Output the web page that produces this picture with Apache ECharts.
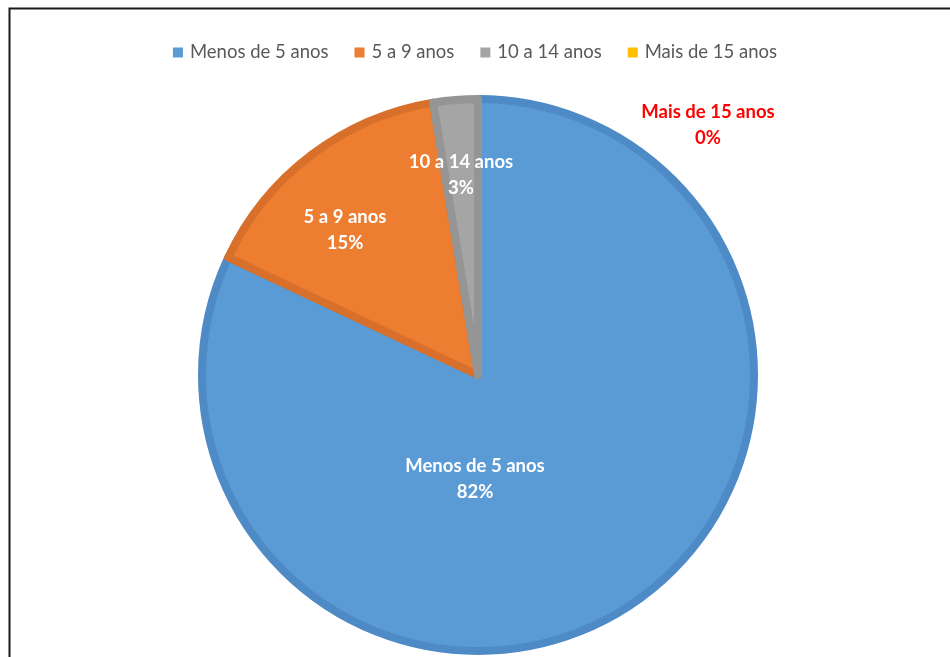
<!DOCTYPE html>
<html>
<head>
<meta charset="utf-8">
<script src="https://cdn.jsdelivr.net/npm/echarts@6/dist/echarts.min.js"></script>
<style>
    html, body { margin: 0; padding: 0; background: #fff; }
    #chart { width: 950px; height: 657px; }
</style>
</head>
<body>
<div id="chart"></div>
<script>
const categories = ["Menos de 5 anos", "5 a 9 anos", "10 a 14 anos", "Mais de 15 anos"]
const values = [82, 15.4, 2.6, 0]
const fills = ["#5B9BD5", "#ED7D31", "#A5A5A5", "#FFC000"]
const borders = ["#4E8AC6", "#D8702B", "#959595", "#E0A800"]

// label offsets from the pie centre (Excel-style placement)
const labelOffsets = [[-3, 104], [-133, -145], [-17, -200], [230, -250]]
const center = [478, 375]

const myChart = echarts.init(document.getElementById("chart"))

const option = {
    animation: false,
    color: fills,
    graphic: [{
        type: "rect",
        shape: { x: 9.5, y: 8.5, width: 1000, height: 1000 },
        style: { fill: "none", stroke: "#1a1a1a", lineWidth: 2 },
        silent: true
    }],
    legend: {
        top: 38,
        left: "center",
        itemWidth: 10,
        itemHeight: 10,
        itemGap: 26,
        icon: "rect",
        itemStyle: { borderWidth: 0 },
        textStyle: { fontFamily: "Lato", fontSize: 18.5, color: "#595959", padding: [0, 0, 0, 2] },
        data: categories
    },
    series: [{
        type: "pie",
        center: center,
        radius: 276,
        startAngle: 90,
        clockwise: true,
        avoidLabelOverlap: false,
        label: {
            show: true,
            position: "inside",
            formatter: p => p.name + "\n" + Math.round(p.percent) + "%",
            fontFamily: "Lato",
            fontWeight: "bold",
            fontSize: 18.5,
            lineHeight: 26,
            color: "#fff",
            align: "center"
        },
        labelLine: { show: false },
        labelLayout: p => {
            const o = labelOffsets[p.dataIndex]
            return { x: center[0] + o[0], y: center[1] + o[1], align: "center", verticalAlign: "middle" }
        },
        emphasis: { disabled: true },
        data: categories.map((name, i) => ({
            name: name,
            value: values[i],
            itemStyle: { color: fills[i], borderColor: borders[i], borderWidth: values[i] > 0 ? 8 : 0 },
            label: i === 3 ? { color: "#FF0000" } : {}
        }))
    }]
}

myChart.setOption(option)
</script>
</body>
</html>
